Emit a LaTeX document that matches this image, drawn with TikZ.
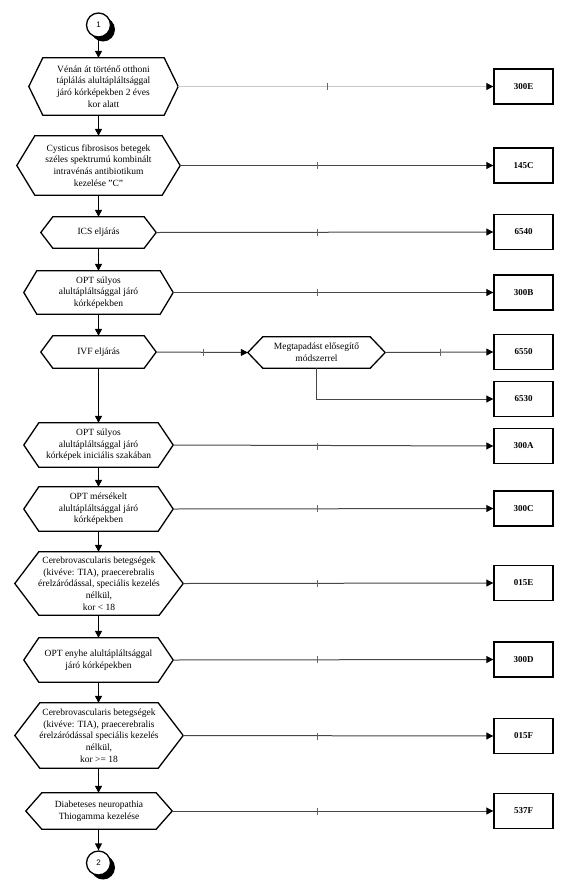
\documentclass[tikz,border=0pt]{standalone}
\usepackage{fontspec}
\setmainfont{Liberation Serif}
\newfontfamily\numfont{Liberation Sans}
\usetikzlibrary{arrows.meta,positioning,shadows}

\begin{document}
\begin{tikzpicture}[x=1pt, y=-1pt,
  hexnode/.style={inner sep=0pt, align=center, font=\fontsize{9.5}{11.7}\selectfont},
  hexline/.style={draw=black, line width=1.3pt, line join=miter},
  codebox/.style={draw, line width=1.4pt, minimum width=59pt, minimum height=35pt,
    inner sep=0pt, font=\bfseries\fontsize{9}{10}\selectfont},
  offpage/.style={circle, draw, line width=1.3pt, fill=white, minimum size=24pt, inner sep=0pt,
    font=\numfont\fontsize{8}{9}\selectfont,
    drop shadow={shadow xshift=4.5pt, shadow yshift=-4.5pt, fill=black, opacity=1}},
  flow/.style={-{Triangle[length=7pt,width=7pt]}, line width=1.3pt},
  conn/.style={-{Triangle[length=7pt,width=7pt,color=black]}, draw=black!72, line width=1pt},
  tickmark/.style={draw=black!60, line width=0.8pt}
]
\useasboundingbox (0,0) rectangle (570,892);

% off-page connectors
\node[offpage] (c1) at (98.5,25) {1};
\node[offpage] (c2) at (98.5,863) {2};

% decisions
\node[hexnode, minimum width=149pt, minimum height=57pt] (h1) at (103.5,86.5)
  {Vénán át történő otthoni\\táplálás alultápláltsággal\\járó kórképekben 2 éves\\kor alatt};
\node[hexnode, minimum width=163pt, minimum height=59pt] (h2) at (98.5,165.5)
  {Cysticus fibrosisos betegek\\széles spektrumú kombinált\\intravénás antibiotikum\\kezelése \symbol{34}C\symbol{34}};
\node[hexnode, minimum width=115pt, minimum height=31pt] (h3) at (98.5,232.5) {ICS eljárás};
\node[hexnode, minimum width=149pt, minimum height=43pt] (h4) at (98.5,292.5)
  {OPT súlyos\\alultápláltsággal járó\\kórképekben};
\node[hexnode, minimum width=115pt, minimum height=32pt] (h5) at (98.5,352) {IVF eljárás};
\node[hexnode, minimum width=137pt, minimum height=31pt] (h6) at (316.5,352.5)
  {Megtapadást elősegítő\\módszerrel};
\node[hexnode, minimum width=149pt, minimum height=44pt] (h7) at (98.5,445)
  {OPT súlyos\\alultápláltsággal járó\\kórképek iniciális szakában};
\node[hexnode, minimum width=149pt, minimum height=44pt] (h8) at (98.5,509)
  {OPT mérsékelt\\alultápláltsággal járó\\kórképekben};
\node[hexnode, minimum width=168pt, minimum height=63pt] (h9) at (99,583.5)
  {Cerebrovascularis betegségek\\(kivéve: TIA), praecerebralis\\érelzáródással, speciális kezelés\\nélkül,\\kor < 18};
\node[hexnode, minimum width=149pt, minimum height=44pt] (h10) at (98.5,660)
  {OPT enyhe alultápláltsággal\\járó kórképekben};
\node[hexnode, minimum width=168pt, minimum height=65pt] (h11) at (99,735.5)
  {Cerebrovascularis betegségek\\(kivéve: TIA), praecerebralis\\érelzáródással speciális kezelés\\nélkül,\\kor >= 18};
\node[hexnode, minimum width=146pt, minimum height=36pt] (h12) at (99,811)
  {Diabeteses neuropathia\\Thiogamma kezelése};

\foreach \n/\d in {h1/14,h2/18,h3/12,h4/13,h5/12,h6/15,h7/15,h8/15,h9/24,h10/15,h11/25,h12/16}
  \draw[hexline] (\n.west) -- ([xshift=\d pt]\n.north west) -- ([xshift=-\d pt]\n.north east)
    -- (\n.east) -- ([xshift=-\d pt]\n.south east) -- ([xshift=\d pt]\n.south west) -- cycle;

% result codes
\node[codebox] (b1) at (523.5,86.5) {300E};
\node[codebox] (b2) at (523.5,165.5) {145C};
\node[codebox] (b3) at (523.5,232) {6540};
\node[codebox] (b4) at (523.5,292.5) {300B};
\node[codebox] (b6) at (523.5,352) {6550};
\node[codebox] (b6b) at (523.5,399) {6530};
\node[codebox] (b7) at (523.5,446) {300A};
\node[codebox] (b8) at (523.5,508.5) {300C};
\node[codebox] (b9) at (523.5,583) {015E};
\node[codebox] (b10) at (523.5,659.5) {300D};
\node[codebox] (b11) at (523.5,736) {015F};
\node[codebox] (b12) at (523.5,811) {537F};

\coordinate (spine) at (98.5,0);
\coordinate (tickx) at (317,0);

% main flow
\draw[flow] (c1.south) -- (spine |- h1.north);
\foreach \a/\b in {h1/h2,h2/h3,h3/h4,h4/h5,h5/h7,h7/h8,h8/h9,h9/h10,h10/h11,h11/h12}
  \draw[flow] (spine |- \a.south) -- (spine |- \b.north);
\draw[flow] (spine |- h12.south) -- (c2.north);

% branches
\draw[conn, draw=black!22] (h1.east) -- (b1.west);
\draw[tickmark] (327,86.5) ++(0,-3.5) -- ++(0,7);
\foreach \h/\b in {h2/b2,h3/b3,h4/b4,h7/b7,h8/b8,h9/b9,h10/b10,h11/b11,h12/b12} {
  \draw[conn] (\h.east) -- (\b.west);
  \draw[tickmark] (tickx |- \b.west) ++(0,-3.5) -- ++(0,7);
}
\draw[conn] (h5.east) -- (h6.west);
\draw[tickmark] (203,352) ++(0,-3.5) -- ++(0,7);
\draw[conn] (h6.east) -- (b6.west);
\draw[tickmark] (440,352) ++(0,-3.5) -- ++(0,7);
\draw[conn] (h6.south) |- (b6b.west);
\end{tikzpicture}
\end{document}
